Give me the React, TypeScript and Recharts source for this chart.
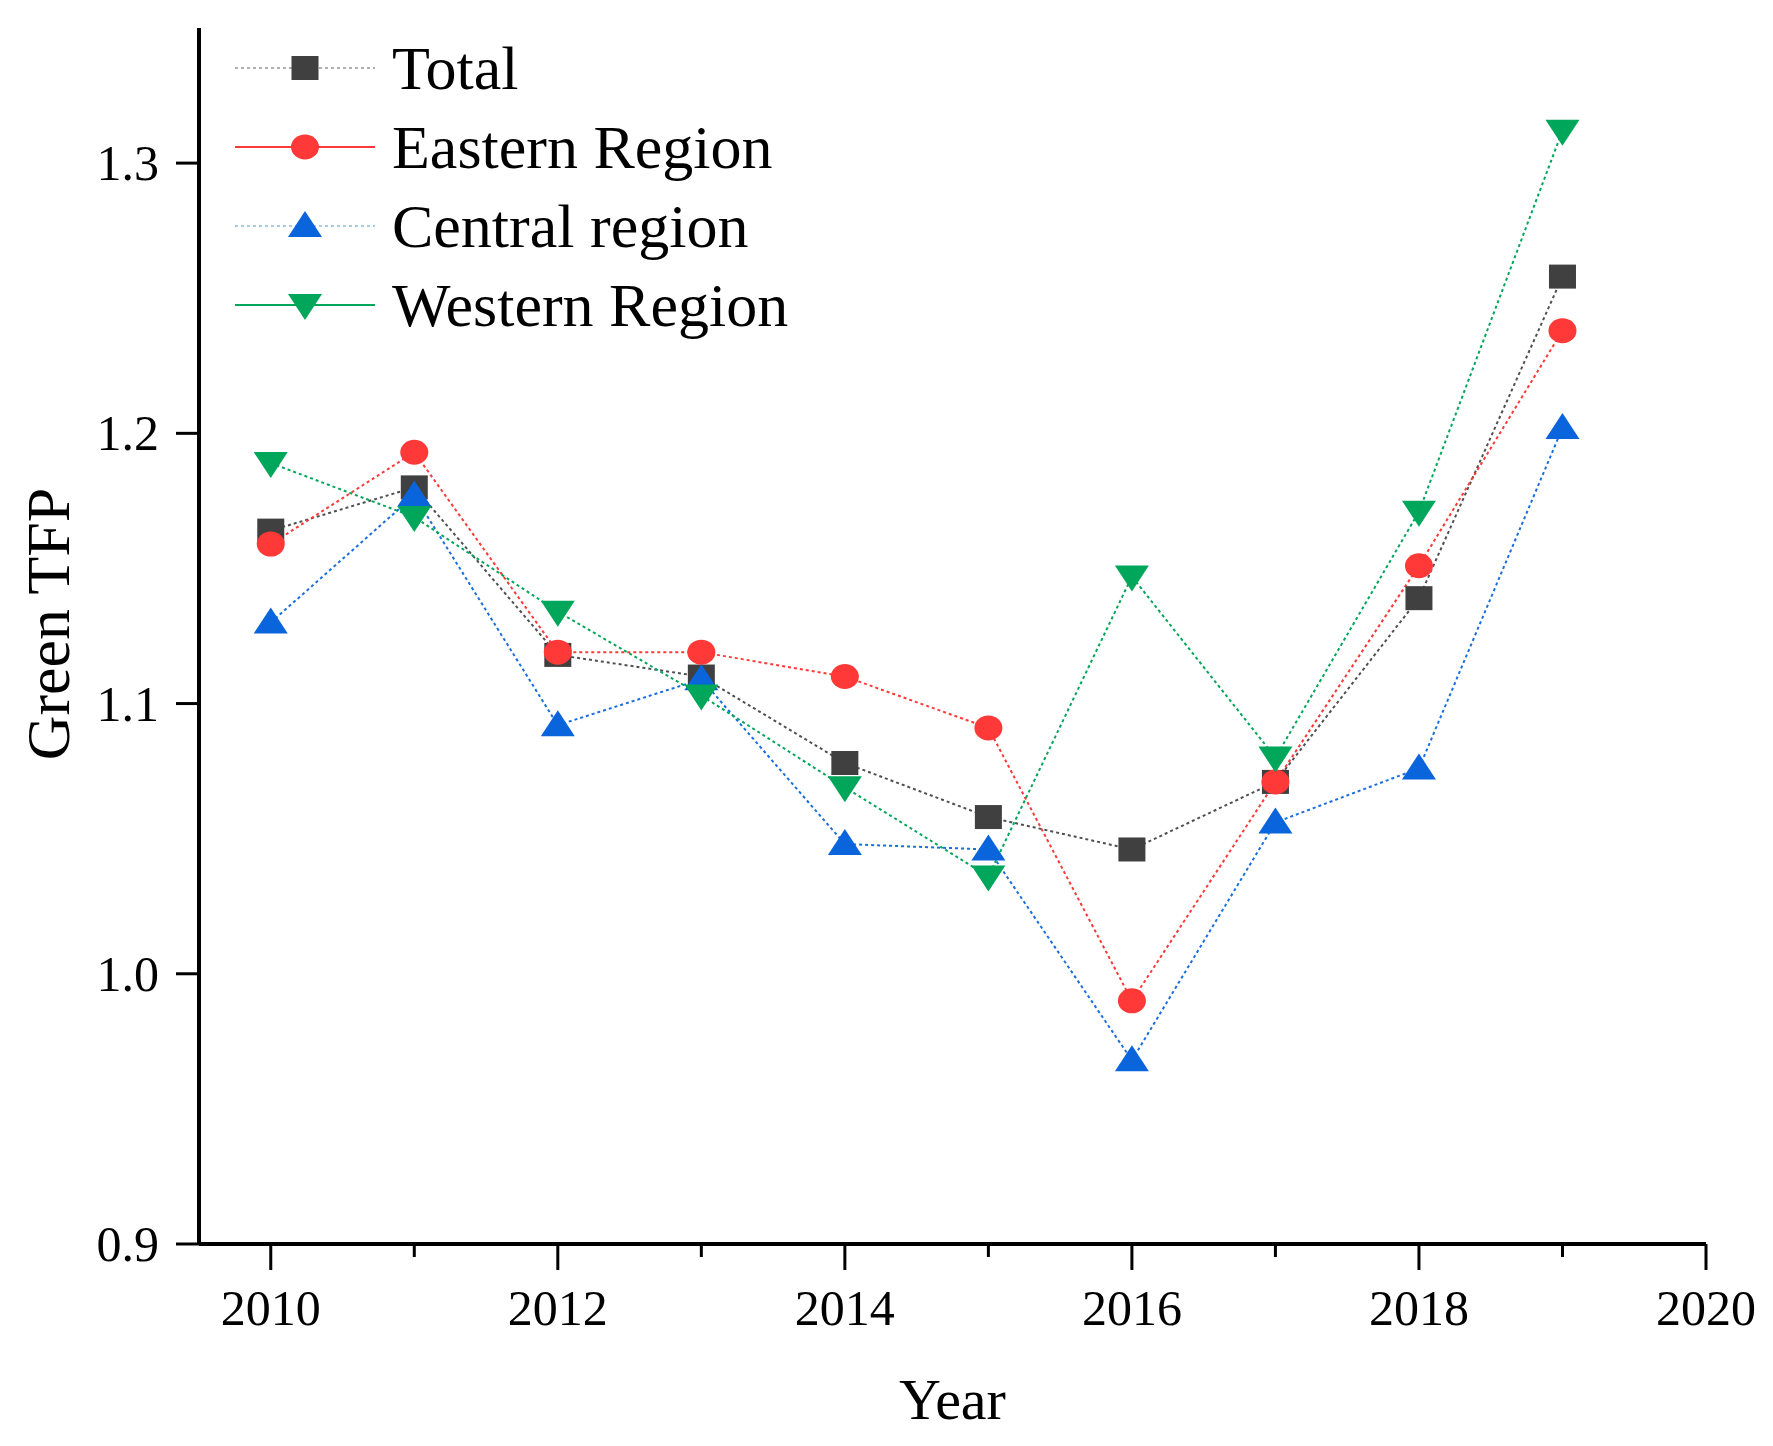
import React from "react";
import { LineChart, Line, XAxis, YAxis, Legend, Label } from "recharts";

const years = [2010, 2011, 2012, 2013, 2014, 2015, 2016, 2017, 2018, 2019];
const total = [1.164, 1.18, 1.118, 1.11, 1.078, 1.058, 1.046, 1.071, 1.139, 1.258];
const eastern = [1.159, 1.193, 1.119, 1.119, 1.11, 1.091, 0.99, 1.071, 1.151, 1.238];
const central = [1.13, 1.177, 1.092, 1.109, 1.048, 1.046, 0.968, 1.056, 1.076, 1.202];
const western = [1.189, 1.169, 1.134, 1.103, 1.069, 1.036, 1.147, 1.08, 1.171, 1.312];

const xTicks = [2010, 2011, 2012, 2013, 2014, 2015, 2016, 2017, 2018, 2019, 2020];
const yTicks = [0.9, 1.0, 1.1, 1.2, 1.3];

const data = years.map((year, i) => ({
  year,
  total: total[i],
  eastern: eastern[i],
  central: central[i],
  western: western[i],
}));

const FONT = "'Liberation Serif', 'Times New Roman', serif";

const series = [
  { key: "total", name: "Total", color: "#404040", line: "#505050", legendLine: "#b0b0b0", legendDash: "3 3", shape: "square" },
  { key: "eastern", name: "Eastern Region", color: "#ff3838", line: "#ff3838", legendLine: "#ff3838", legendDash: "", shape: "circle" },
  { key: "central", name: "Central region", color: "#0a64dc", line: "#1a6ee0", legendLine: "#a8cce0", legendDash: "3 3", shape: "up" },
  { key: "western", name: "Western Region", color: "#00a65a", line: "#00a65a", legendLine: "#00a65a", legendDash: "", shape: "down" },
];

function Marker({ shape, cx, cy, color }: { shape: string; cx: number; cy: number; color: string }) {
  if (shape === "square") return <rect x={cx - 13.5} y={cy - 12} width={27} height={24} fill={color} />;
  if (shape === "circle") return <ellipse cx={cx} cy={cy} rx={14} ry={12.5} fill={color} />;
  if (shape === "up")
    return <polygon points={`${cx - 17},${cy + 11} ${cx + 17},${cy + 11} ${cx},${cy - 15}`} fill={color} />;
  return <polygon points={`${cx - 17},${cy - 11} ${cx + 17},${cy - 11} ${cx},${cy + 15}`} fill={color} />;
}

function makeDot(shape: string, color: string, key: string) {
  return (props: any) => {
    const { cx, cy, index } = props;
    if (cx == null || cy == null) return <g key={`${key}-${index}`} />;
    return (
      <g key={`${key}-${index}`}>
        <Marker shape={shape} cx={cx} cy={cy} color={color} />
      </g>
    );
  };
}

const XTick = ({ x, y, payload }: any) => {
  const major = payload.value % 2 === 0;
  return (
    <g>
      <line x1={x} y1={y} x2={x} y2={y + (major ? 26 : 13)} stroke="#000" strokeWidth={3} />
      {major && (
        <text x={x} y={y + 64} textAnchor="middle" dominantBaseline="central" fontSize={50} fontFamily={FONT} fill="#000">
          {payload.value}
        </text>
      )}
    </g>
  );
};

const YTick = ({ x, y, payload }: any) => (
  <g>
    <line x1={x} y1={y} x2={x - 23} y2={y} stroke="#000" strokeWidth={3} />
    <text x={x - 40} y={y} textAnchor="end" dominantBaseline="central" fontSize={50} fontFamily={FONT} fill="#000">
      {payload.value.toFixed(1)}
    </text>
  </g>
);

const LegendContent = () => (
  <svg width={700} height={320}>
    {series.map((s, i) => {
      const cy = 40 + i * 79;
      return (
        <g key={s.key}>
          <line x1={7} y1={cy} x2={147} y2={cy} stroke={s.legendLine} strokeWidth={2} strokeDasharray={s.legendDash || undefined} />
          <Marker shape={s.shape} cx={77} cy={cy} color={s.color} />
          <text x={164} y={cy} dominantBaseline="central" fontSize={62} fontFamily={FONT} fill="#000">
            {s.name}
          </text>
        </g>
      );
    })}
  </svg>
);

export default function App() {
  return (
    <div style={{ width: 1757, height: 1430, background: "#fff" }}>
      <LineChart width={1757} height={1430} data={data} margin={{ top: 20, right: 59, left: 0, bottom: 44 }}>
        <XAxis
          dataKey="year"
          type="number"
          domain={[2009.5, 2020]}
          ticks={xTicks}
          interval={0}
          height={150}
          tickSize={0}
          tickMargin={0}
          tick={<XTick />}
          tickLine={false}
          axisLine={{ stroke: "#000", strokeWidth: 4 }}
          allowDataOverflow
        >
          <Label
            content={({ viewBox }: any) => (
              <text
                x={viewBox.x + viewBox.width / 2}
                y={viewBox.y + 155}
                textAnchor="middle"
                dominantBaseline="central"
                fontSize={58}
                fontFamily={FONT}
                fill="#000"
              >
                Year
              </text>
            )}
          />
        </XAxis>
        <YAxis
          type="number"
          domain={[0.9, 1.35]}
          ticks={yTicks}
          interval={0}
          width={191}
          tickSize={0}
          tickMargin={0}
          tick={<YTick />}
          tickLine={false}
          axisLine={{ stroke: "#000", strokeWidth: 4 }}
          allowDataOverflow
        >
          <Label
            content={({ viewBox }: any) => {
              const cx = viewBox.x + 40;
              const cy = viewBox.y + viewBox.height / 2 - 12;
              return (
                <text
                  x={cx}
                  y={cy}
                  transform={`rotate(-90 ${cx} ${cy})`}
                  textAnchor="middle"
                  dominantBaseline="central"
                  fontSize={62}
                  fontFamily={FONT}
                  fill="#000"
                >
                  Green TFP
                </text>
              );
            }}
          />
        </YAxis>
        <Legend
          layout="vertical"
          align="center"
          verticalAlign="middle"
          content={<LegendContent />}
          wrapperStyle={{ left: 220, top: 20, width: 700, height: 320 }}
        />
        {series.map((s) => (
          <Line
            key={s.key}
            dataKey={s.key}
            name={s.name}
            type="linear"
            stroke={s.line}
            strokeWidth={2}
            strokeDasharray="3 3"
            dot={makeDot(s.shape, s.color, s.key)}
            activeDot={false}
            isAnimationActive={false}
          />
        ))}
      </LineChart>
    </div>
  );
}
